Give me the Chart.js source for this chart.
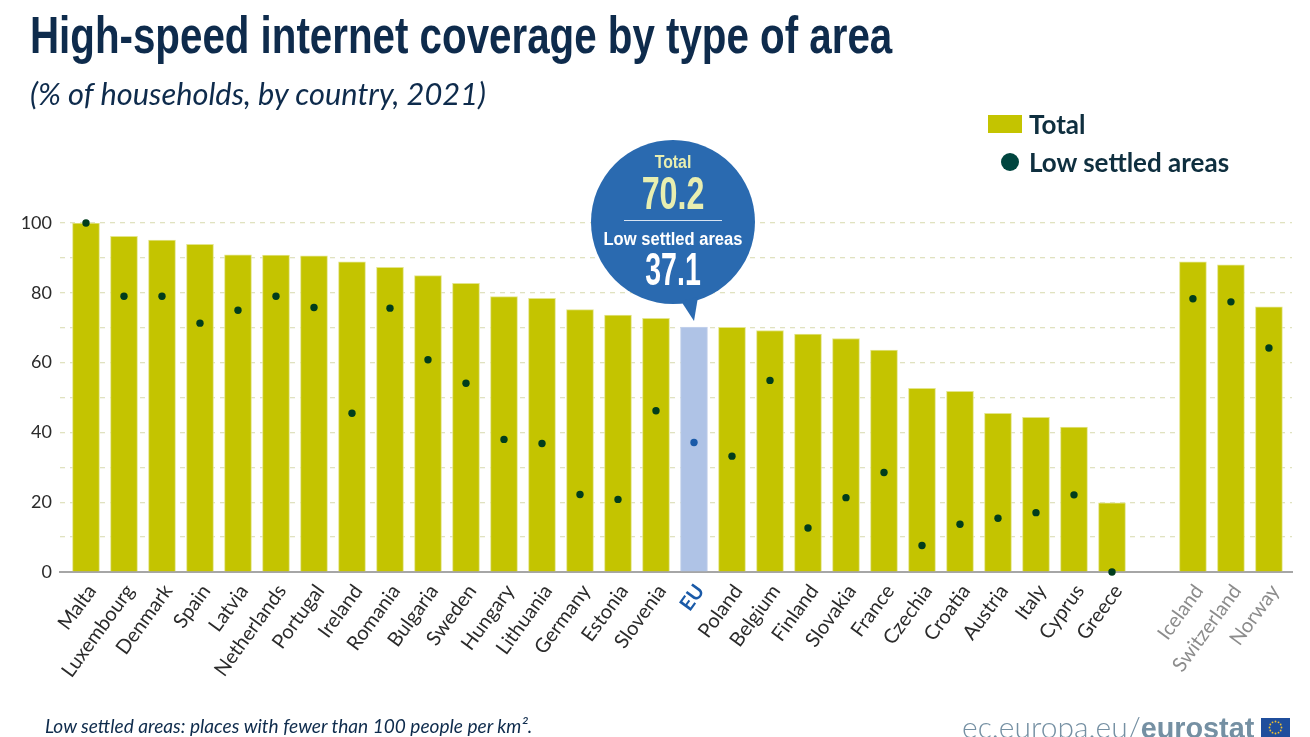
<!DOCTYPE html>
<html>
<head>
<meta charset="utf-8">
<script src="https://cdn.jsdelivr.net/npm/chart.js@4"></script>
<style>
  body { margin: 0; background: #fff; width: 1310px; height: 737px; overflow: hidden; position: relative; }
  canvas { position: absolute; left: 0; top: 0; }
  .txt { position: absolute; white-space: nowrap; color: #0e2b4c; transform-origin: left top; }
  #title { left: 30px; top: 5px; font: bold 52px "Liberation Sans"; transform: scaleX(.775); }
  #subtitle { left: 30px; top: 75px; font: italic 30.8px Lato; }
  #note { left: 45px; top: 714px; font: italic 19.1px Lato; }
  .leg { font: bold 26px Lato; color: #0f2f3f; }
  #swatch { position: absolute; left: 988px; top: 115px; width: 34px; height: 18px; background: #c4c400; }
  #dot { position: absolute; left: 1001px; top: 153px; width: 18px; height: 18px; border-radius: 50%; background: #00453f; }
  #logo { left: 962px; top: 708px; font: 300 30px Lato; color: #7590a3; }
  #logo b { font: bold 28.8px "Liberation Sans"; }
  #flag { position: absolute; left: 1261px; top: 718px; }
</style>
</head>
<body>
<canvas id="chart" width="1310" height="737"></canvas>
<div class="txt" id="title">High-speed internet coverage by type of area</div>
<div class="txt" id="subtitle">(% of households, by country, 2021)</div>
<div id="swatch"></div>
<div class="txt leg" style="left:1029px;top:108px">Total</div>
<div id="dot"></div>
<div class="txt leg" style="left:1029px;top:146px">Low settled areas</div>
<div class="txt" id="note">Low settled areas: places with fewer than 100 people per km².</div>
<div class="txt" id="logo">ec.europa.eu/<b>eurostat</b></div>
<svg id="flag" width="29" height="19" viewBox="0 0 29 19"><rect width="29" height="19" fill="#1f4e9c"/><g id="stars" fill="#f2c230"></g></svg>

<script>
const countries = ["Malta","Luxembourg","Denmark","Spain","Latvia","Netherlands","Portugal","Ireland","Romania","Bulgaria","Sweden","Hungary","Lithuania","Germany","Estonia","Slovenia","EU","Poland","Belgium","Finland","Slovakia","France","Czechia","Croatia","Austria","Italy","Cyprus","Greece","Iceland","Switzerland","Norway"];
const totalValues = [100,96.2,95.1,93.9,90.9,90.8,90.6,88.9,87.3,84.9,82.7,78.9,78.4,75.2,73.6,72.7,70.2,70.1,69.2,68.2,66.9,63.6,52.6,51.8,45.5,44.3,41.5,19.8,88.9,88,76];
const lowSettled = [100,79,79,71.3,75,79,75.8,45.5,75.6,60.8,54.1,38,36.8,22.2,20.8,46.2,37.1,33.2,54.9,12.6,21.3,28.5,7.6,13.7,15.4,17,22.1,0,78.3,77.4,64.2];
const yLabels = [0,20,40,60,80,100];

const euIndex = countries.indexOf("EU");
const firstNonEu = countries.indexOf("Iceland");
const groupGap = 1.13; // extra space before the non-EU countries
const slot = i => i < firstNonEu ? i : i + groupGap;
const slots = countries.map((c, i) => slot(i));

// EU flag stars
let stars = "";
for (let i = 0; i < 12; i++) {
  const a = i * Math.PI / 6;
  stars += `<circle cx="${14.5 + 6 * Math.cos(a)}" cy="${9.5 + 6 * Math.sin(a)}" r="0.9"/>`;
}
document.getElementById("stars").innerHTML = stars;

// centred text squeezed horizontally, the source font is condensed
function squeezed(ctx, text, x, y, size, sx) {
  ctx.save();
  ctx.translate(x, y);
  ctx.scale(sx, 1);
  ctx.font = `bold ${size}px "Liberation Sans"`;
  ctx.fillText(text, 0, 0);
  ctx.restore();
}

// Callout bubble above the EU bar
const bubble = {
  id: "bubble",
  afterDatasetsDraw(chart) {
    const ctx = chart.ctx;
    const tipX = chart.scales.x.getPixelForValue(slot(euIndex));
    const tipY = chart.scales.y.getPixelForValue(totalValues[euIndex]) - 6;
    const cx = tipX - 21, cy = tipY - 99, r = 82;
    ctx.save();
    ctx.fillStyle = "#2a6ab0";
    ctx.beginPath();
    ctx.arc(cx, cy, r, 0, Math.PI * 2);
    ctx.fill();
    ctx.beginPath();
    ctx.moveTo(tipX - 13, tipY - 20);
    ctx.lineTo(tipX, tipY);
    ctx.lineTo(tipX + 4, tipY - 24);
    ctx.closePath();
    ctx.fill();
    ctx.strokeStyle = "#d8e4f2";
    ctx.lineWidth = 1;
    ctx.beginPath();
    ctx.moveTo(cx - 49, cy - 1.5);
    ctx.lineTo(cx + 49, cy - 1.5);
    ctx.stroke();
    ctx.textAlign = "center";
    ctx.textBaseline = "alphabetic";
    ctx.fillStyle = "#e8eeb0";
    squeezed(ctx, "Total", cx, cy - 54, 18, .88);
    squeezed(ctx, totalValues[euIndex].toFixed(1), cx, cy - 13, 46, .7);
    ctx.fillStyle = "#fff";
    squeezed(ctx, "Low settled areas", cx, cy + 23, 18, .92);
    squeezed(ctx, lowSettled[euIndex].toFixed(1), cx, cy + 63, 46, .62);
    ctx.restore();
  }
};

new Chart(document.getElementById("chart"), {
  type: "bar",
  plugins: [bubble],
  data: {
    datasets: [{
      type: "line",
      label: "Low settled areas",
      data: countries.map((c, i) => ({ x: slot(i), y: lowSettled[i] })),
      showLine: false,
      clip: false,
      order: 1,
      pointRadius: 3.7,
      pointBorderWidth: 0,
      pointBackgroundColor: countries.map((c, i) => i === euIndex ? "#1a5aa8" : "#013d1c")
    }, {
      label: "Total",
      data: countries.map((c, i) => ({ x: slot(i), y: totalValues[i] })),
      order: 2,
      barThickness: 27,
      borderWidth: 1,
      borderColor: countries.map((c, i) => i === euIndex ? "#c6d3ec" : "#e3e58a"),
      backgroundColor: countries.map((c, i) => i === euIndex ? "#afc3e6" : "#c4c400")
    }]
  },
  options: {
    responsive: false,
    animation: false,
    layout: { padding: { top: 223, right: 18, left: 0, bottom: 0 } },
    plugins: { legend: { display: false }, tooltip: { enabled: false } },
    scales: {
      x: {
        type: "linear",
        offset: false,
        min: -0.684,
        max: 31.737,
        grid: { display: false },
        border: { color: "#a6a6a6", width: 2 },
        afterBuildTicks: scale => { scale.ticks = slots.map(v => ({ value: v })); },
        afterFit: scale => { scale.height = 165; },
        ticks: {
          autoSkip: false,
          minRotation: 54,
          maxRotation: 54,
          labelOffset: 6,
          padding: 0,
          callback: (value, i) => countries[i],
          color: ctx => ctx.index === euIndex ? "#1a5aa8" : ctx.index >= firstNonEu ? "#8c8c8c" : "#2b2b2b",
          font: ctx => ({ family: "Lato", size: 20, weight: ctx.index === euIndex ? "bold" : "normal" })
        }
      },
      y: {
        min: 0,
        max: 100,
        afterFit: scale => { scale.width = 60; },
        grid: { color: "#e0e2c0", lineWidth: 1.3, drawTicks: false },
        border: { display: false, dash: [5, 5] },
        ticks: {
          stepSize: 10,
          padding: 8,
          color: "#2b2b2b",
          font: { family: "Lato", size: 18 },
          callback: value => yLabels.includes(value) ? value : ""
        }
      }
    }
  }
});
</script>
</body>
</html>
